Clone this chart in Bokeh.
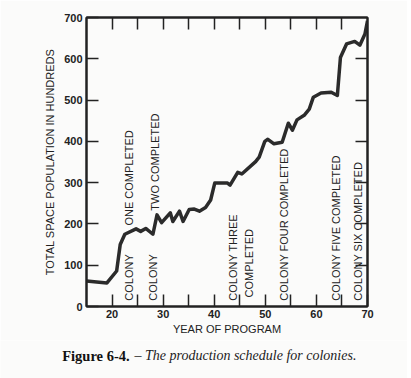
import math
from bokeh.plotting import figure
from bokeh.models import Range1d, FixedTicker, LinearAxis, ColumnDataSource
from bokeh.embed import file_html
from bokeh.resources import INLINE
from bokeh.core.properties import value

# ---- data ----
years = [15.0, 19.0, 20.9, 21.6, 22.5, 24.7, 25.6, 26.6, 28.0, 28.8, 29.7, 31.4, 31.9,
         33.2, 33.9, 35.1, 36.1, 37.1, 38.3, 39.3, 40.1, 42.6, 43.1, 44.6, 45.4, 48.1,
         48.8, 49.9, 50.5, 51.7, 53.3, 54.5, 55.3, 56.2, 57.6, 58.6, 59.4, 60.9, 62.9,
         64.1, 64.7, 65.9, 67.5, 68.5, 69.5, 70.0]
population = [62, 57, 86, 150, 175, 188, 182, 189, 175, 222, 203, 227, 206,
              231, 206, 235, 236, 231, 240, 258, 299, 299, 294, 325, 321, 351,
              362, 400, 405, 394, 398, 444, 427, 452, 463, 478, 507, 517, 519,
              511, 603, 636, 642, 633, 660, 692]

x_major_ticks = [20, 30, 40, 50, 60, 70]
x_minor_ticks = [25, 35, 45, 55, 65]
x_all_ticks = [20, 25, 30, 35, 40, 45, 50, 55, 60, 65]
y_major_ticks = [0, 100, 200, 300, 400, 500, 600, 700]
y_inner_ticks = [100, 200, 300, 400, 500, 600]

ann_text = ["COLONY", "ONE COMPLETED", "COLONY", "TWO COMPLETED", "COLONY THREE",
            "COMPLETED", "COLONY FOUR COMPLETED", "COLONY FIVE COMPLETED",
            "COLONY SIX COMPLETED"]
ann_year = [23.3, 23.3, 28.1, 28.4, 43.7, 46.8, 53.6, 63.8, 68.2]
ann_level = [14, 196, 14, 232, 14, 22, 14, 14, 14]

caption_parts = ["Figure 6-4.", "\u2013 The production schedule for colonies."]

INK = "#222222"
PAPER = "#fbfbfa"
SANS = "Liberation Sans"
SERIF = "Liberation Serif"
W = 407

p = figure(frame_width=281, frame_height=289,
           x_range=Range1d(15, 70), y_range=Range1d(0, 700),
           output_backend="svg", toolbar_location=None,
           min_border_left=86, min_border_top=17, min_border_right=40,
           min_border_bottom=34)
p.background_fill_color = PAPER
p.border_fill_color = PAPER
p.outline_line_color = INK
p.outline_line_width = 2
p.xgrid.visible = False
p.ygrid.visible = False


def style_axis(ax):
    ax.axis_line_color = INK
    ax.axis_line_width = 2
    ax.major_tick_line_color = INK
    ax.major_tick_line_width = 1.5
    ax.minor_tick_line_color = INK
    ax.minor_tick_line_width = 1.5
    ax.major_tick_in = 12
    ax.major_tick_out = 0
    ax.minor_tick_in = 12
    ax.minor_tick_out = 0
    ax.major_label_text_font = SANS
    ax.major_label_text_font_size = "11px"
    ax.major_label_text_font_style = "bold"
    ax.major_label_text_color = INK
    ax.axis_label_text_font = SANS
    ax.axis_label_text_font_size = "11px"
    ax.axis_label_text_font_style = "normal"
    ax.axis_label_text_color = INK


xa = p.xaxis[0]
xa.ticker = FixedTicker(ticks=x_major_ticks, minor_ticks=x_minor_ticks)
style_axis(xa)
xa.axis_label = "YEAR OF PROGRAM"
xa.major_label_standoff = 3
xa.axis_label_standoff = 2

ya = p.yaxis[0]
ya.ticker = FixedTicker(ticks=y_major_ticks)
style_axis(ya)
ya.axis_label = "TOTAL SPACE POPULATION IN HUNDREDS"
ya.major_label_standoff = 4
ya.axis_label_standoff = 5

# top and right frames: only minor ticks (no labels)
top = LinearAxis(ticker=FixedTicker(ticks=[], minor_ticks=x_all_ticks))
style_axis(top)
p.add_layout(top, "above")
right = LinearAxis(ticker=FixedTicker(ticks=[], minor_ticks=y_inner_ticks))
style_axis(right)
p.add_layout(right, "right")

src = ColumnDataSource(dict(x=years, y=population))
p.line("x", "y", source=src, line_color="#2b2b2b", line_width=3.5, line_join="round")

ann = ColumnDataSource(dict(x=ann_year, y=ann_level, t=ann_text))
p.text("x", "y", text="t", source=ann, angle=math.pi / 2,
       text_font=value(SANS), text_font_size="11px", text_color=INK,
       text_align="left", text_baseline="middle")

# caption as a second, axis-less strip (separate root, so its frame is full width)
cap = figure(width=W, height=38, x_range=Range1d(0, W), y_range=Range1d(0, 38),
             output_backend="svg", toolbar_location=None,
             x_axis_type=None, y_axis_type=None, min_border=0)
cap.background_fill_color = PAPER
cap.border_fill_color = PAPER
cap.outline_line_color = None
cap.xgrid.visible = False
cap.ygrid.visible = False
cap_src = ColumnDataSource(dict(x=[61.7, 134], y=[23, 23], t=caption_parts,
                                style=["bold", "italic"], size=["14.5px", "14px"],
                                color=["#111111", "#222222"]))
cap.text("x", "y", text="t", source=cap_src, text_font=value(SERIF),
         text_font_style="style", text_font_size="size", text_color="color",
         text_align="left", text_baseline="middle")

open("out.html", "w").write(file_html([p, cap], INLINE))
